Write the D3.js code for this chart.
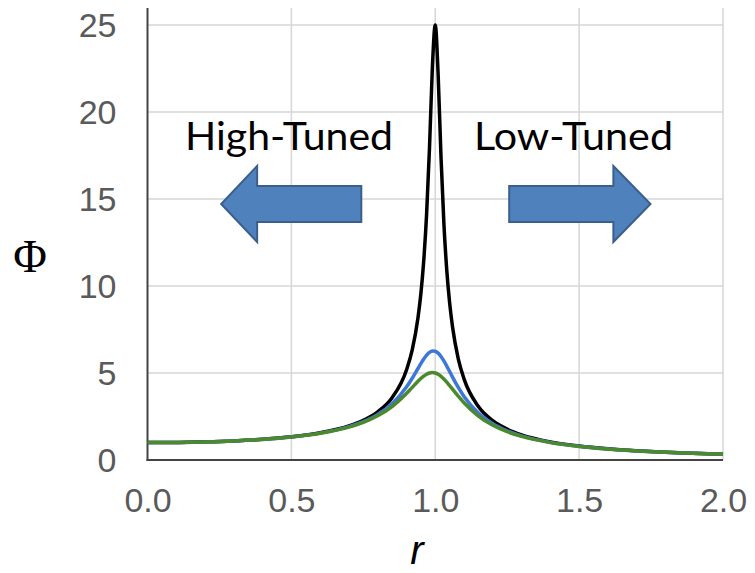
<!DOCTYPE html>
<html>
<head>
<meta charset="utf-8">
<script src="https://cdn.jsdelivr.net/npm/d3@7"></script>
<style>
  body { margin: 0; background: #fff; }
  svg { display: block; }
</style>
</head>
<body>
<svg id="chart" width="755" height="573"></svg>
<script>
'use strict'

// frequency ratio r
var rValues = [0, 0.1, 0.2, 0.3, 0.4, 0.5, 0.6, 0.7, 0.75, 0.8, 0.85, 0.9, 0.92, 0.94, 0.95, 0.96, 0.97, 0.98, 0.99,
               1.0, 1.01, 1.02, 1.03, 1.04, 1.05, 1.06, 1.08, 1.1, 1.15, 1.2, 1.25, 1.3, 1.4, 1.5, 1.6, 1.7, 1.8, 1.9, 2.0];

// amplification
var phiBlack = [1.0, 1.010, 1.042, 1.099, 1.190, 1.333, 1.561, 1.958, 2.280, 2.767, 3.577, 5.171, 6.331, 8.175, 9.556, 11.455, 14.145, 17.947, 22.564,
                25.0, 22.161, 17.416, 13.600, 10.918, 9.028, 7.653, 5.817, 4.661, 3.070, 2.259, 1.771, 1.445, 1.040, 0.799, 0.641, 0.529, 0.446, 0.383, 0.333];
var phiBlue  = [1.0, 1.010, 1.041, 1.097, 1.187, 1.326, 1.545, 1.915, 2.204, 2.617, 3.236, 4.195, 4.700, 5.258, 5.538, 5.799, 6.022, 6.184, 6.264,
                6.25, 6.141, 5.948, 5.692, 5.396, 5.081, 4.765, 4.169, 3.650, 2.693, 2.083, 1.675, 1.388, 1.014, 0.786, 0.633, 0.524, 0.443, 0.381, 0.332];
var phiGreen = [1.0, 1.010, 1.041, 1.097, 1.185, 1.322, 1.536, 1.891, 2.162, 2.538, 3.073, 3.821, 4.172, 4.522, 4.683, 4.822, 4.931, 5.001, 5.025,
                5.0, 4.926, 4.809, 4.655, 4.476, 4.279, 4.075, 3.668, 3.288, 2.525, 1.995, 1.625, 1.356, 1.000, 0.778, 0.628, 0.521, 0.441, 0.379, 0.330];

var seriesColors = ["#000000", "#3d78d8", "#4a8a2c"];

var xTicks = [0, 0.5, 1.0, 1.5, 2.0];
var yTicks = [0, 5, 10, 15, 20, 25];

// annotation arrows in data units: [tail r, head-base r, tip r]
var arrowsR = [[0.743, 0.381, 0.256], [1.257, 1.619, 1.748]];
var arrowBody = [13.68, 15.75];
var arrowHead = [12.53, 16.9];
var arrowMid = 14.71;

var width = 755,
    height = 573,
    plotLeft = 147.5, plotRight = 723,
    plotTop = 8, plotBottom = 460;

var svg = d3.select("#chart");

var x = d3.scaleLinear().domain([0, 2]).range([plotLeft, plotRight]);
var y = d3.scaleLinear().domain([0, 25]).range([plotBottom, plotBottom - 435]);

// grid
svg.append("g")
  .selectAll("line")
  .data(yTicks.filter(function(d) { return d > 0; }))
  .enter().append("line")
    .attr("x1", plotLeft).attr("x2", plotRight)
    .attr("y1", function(d) { return y(d); })
    .attr("y2", function(d) { return y(d); })
    .attr("stroke", "#d6d6d6").attr("stroke-width", 1.5);

svg.append("g")
  .selectAll("line")
  .data(xTicks.filter(function(d) { return d > 0; }))
  .enter().append("line")
    .attr("x1", function(d) { return x(d); })
    .attr("x2", function(d) { return x(d); })
    .attr("y1", plotTop).attr("y2", plotBottom)
    .attr("stroke", "#d6d6d6").attr("stroke-width", 1.5);

// axes
var xAxis = d3.axisBottom(x).tickValues(xTicks).tickFormat(d3.format(".1f")).tickSize(0).tickPadding(28);
var yAxis = d3.axisLeft(y).tickValues(yTicks).tickSize(0).tickPadding(31);

var gx = svg.append("g").attr("transform", "translate(0," + plotBottom + ")").call(xAxis);
var gy = svg.append("g").attr("transform", "translate(" + plotLeft + ",0)").call(yAxis);

[gx, gy].forEach(function(g) {
  g.select(".domain").remove();
  g.selectAll("text")
    .attr("fill", "#5a5a5a")
    .style("font-family", "'Liberation Sans', Arial, sans-serif")
    .style("font-size", "34px");
});
gx.selectAll("text").attr("dy", "0.71em");
gy.selectAll("text").attr("dy", "0.35em");

svg.append("line")
  .attr("x1", plotLeft).attr("x2", plotLeft).attr("y1", plotTop).attr("y2", plotBottom + 1)
  .attr("stroke", "#444").attr("stroke-width", 2);
svg.append("line")
  .attr("x1", plotLeft - 1).attr("x2", plotRight).attr("y1", plotBottom).attr("y2", plotBottom)
  .attr("stroke", "#444").attr("stroke-width", 2);

// curves
var line = d3.line()
  .x(function(d) { return x(d[0]); })
  .y(function(d) { return y(d[1]); })
  .curve(d3.curveMonotoneX);

[phiBlack, phiBlue, phiGreen].forEach(function(vals, i) {
  svg.append("path")
    .datum(rValues.map(function(r, j) { return [r, vals[j]]; }))
    .attr("d", line)
    .attr("fill", "none")
    .attr("stroke", seriesColors[i])
    .attr("stroke-width", 3.5)
    .attr("stroke-linejoin", "round");
});

// arrows
arrowsR.forEach(function(a) {
  var pts = [
    [a[0], arrowBody[0]], [a[1], arrowBody[0]], [a[1], arrowHead[0]],
    [a[2], arrowMid], [a[1], arrowHead[1]], [a[1], arrowBody[1]], [a[0], arrowBody[1]]
  ];
  svg.append("path")
    .attr("d", "M" + pts.map(function(p) { return x(p[0]) + "," + y(p[1]); }).join("L") + "Z")
    .attr("fill", "#4f81bd")
    .attr("stroke", "#3a5f8c")
    .attr("stroke-width", 2)
    .attr("stroke-linejoin", "miter");
});

// labels
var labelFont = "Lato, 'Open Sans', sans-serif";
svg.append("text")
  .attr("x", 185).attr("y", 150)
  .attr("textLength", 208).attr("lengthAdjust", "spacingAndGlyphs")
  .style("font-family", labelFont).style("font-size", "39px")
  .text("High-Tuned");
svg.append("text")
  .attr("x", 474).attr("y", 150)
  .attr("textLength", 199).attr("lengthAdjust", "spacingAndGlyphs")
  .style("font-family", labelFont).style("font-size", "39px")
  .text("Low-Tuned");

svg.append("text")
  .attr("x", 30).attr("y", 272)
  .attr("text-anchor", "middle")
  .style("font-family", "'Liberation Serif', 'Times New Roman', serif")
  .style("font-size", "46px")
  .text("Φ");

svg.append("text")
  .attr("x", 417).attr("y", 564)
  .attr("text-anchor", "middle")
  .style("font-family", "'Liberation Sans', Arial, sans-serif")
  .style("font-style", "italic")
  .style("font-size", "40px")
  .text("r");
</script>
</body>
</html>
